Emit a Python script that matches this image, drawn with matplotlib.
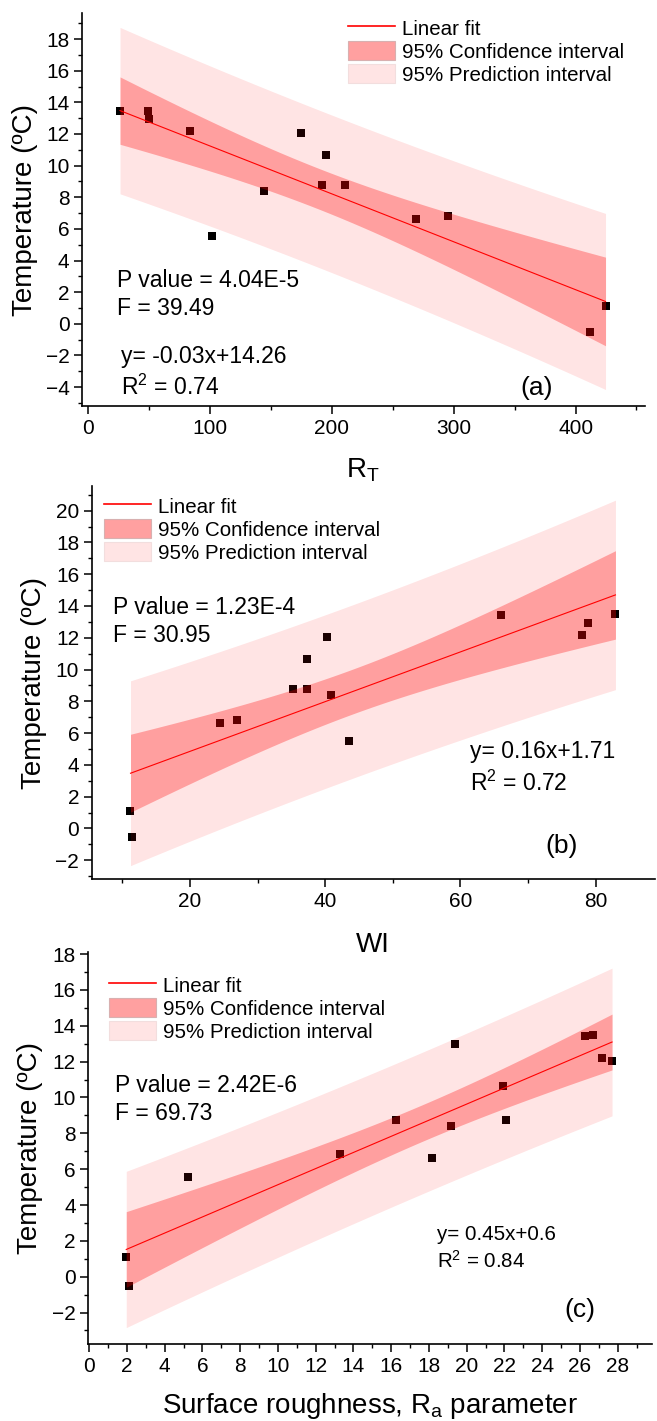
import numpy as np
import matplotlib
matplotlib.use("Agg")
import matplotlib.pyplot as plt
from matplotlib.lines import Line2D
from matplotlib.patches import Patch
from matplotlib.ticker import MultipleLocator

plt.rcParams['font.family'] = ['Liberation Sans', 'DejaVu Sans']
plt.rcParams['mathtext.fontset'] = 'custom'
plt.rcParams['mathtext.rm'] = 'Liberation Sans'
plt.rcParams['mathtext.it'] = 'Liberation Sans:italic'

# ---- data ----
rt = [26.0, 49.0, 49.9, 83.8, 101.3, 144.6, 174.4, 195.0, 191.7, 210.8, 269.4, 294.9, 411.8, 424.6]
temp_a = [13.48, 13.45, 12.96, 12.16, 5.53, 8.37, 12.06, 10.64, 8.75, 8.75, 6.60, 6.82, -0.53, 1.14]

wi = [11.2, 11.4, 24.5, 26.9, 35.3, 37.25, 37.25, 40.2, 40.8, 43.6, 66.0, 78.0, 78.9, 82.95]
temp_b = [1.11, -0.53, 6.63, 6.84, 8.75, 8.75, 10.64, 12.05, 8.39, 5.53, 13.43, 12.17, 12.95, 13.48]

ra = [1.96, 2.1, 5.25, 13.29, 16.25, 18.15, 19.18, 19.37, 21.94, 22.1, 26.28, 26.69, 27.18, 27.7]
temp_c = [1.12, -0.52, 5.56, 6.83, 8.74, 6.64, 8.39, 12.96, 10.64, 8.74, 13.4, 13.46, 12.18, 12.05]

pvalue_txt = ["P value = 4.04E-5", "P value = 1.23E-4", "P value = 2.42E-6"]
f_txt = ["F = 39.49", "F = 30.95", "F = 69.73"]
eq_txt = ["y= -0.03x+14.26", "y= 0.16x+1.71", "y= 0.45x+0.6"]
r2_txt = ["R$^\\mathregular{2}$ = 0.74", "R$^\\mathregular{2}$ = 0.72", "R$^\\mathregular{2}$ = 0.84"]
panel_tags = ["(a)", "(b)", "(c)"]
xlabels = ["R$_\\mathregular{T}$", "WI", "Surface roughness, R$_\\mathregular{a}$ parameter"]
legend_labels = ["Linear fit", "95% Confidence interval", "95% Prediction interval"]

T_CRIT = 2.1788  # t(0.975, df=12)

W, H = 657, 1421


def fx(x):
    return x / W


def fy(y):
    return 1 - y / H


def fit_bands(x, y):
    x = np.asarray(x, float)
    y = np.asarray(y, float)
    n = len(x)
    slope, icpt = np.polyfit(x, y, 1)
    resid = y - (slope * x + icpt)
    s = np.sqrt(np.sum(resid ** 2) / (n - 2))
    sxx = np.sum((x - x.mean()) ** 2)
    xg = np.linspace(x.min(), x.max(), 200)
    yg = slope * xg + icpt
    ci = T_CRIT * s * np.sqrt(1 / n + (xg - x.mean()) ** 2 / sxx)
    pi = T_CRIT * s * np.sqrt(1 + 1 / n + (xg - x.mean()) ** 2 / sxx)
    return xg, yg, ci, pi


def draw_panel(ax, x, y):
    ax.plot(x, y, 's', color='black', ms=6, mew=0, zorder=2)
    xg, yg, ci, pi = fit_bands(x, y)
    ax.fill_between(xg, yg - pi, yg + pi, color='red', alpha=0.106, lw=0, zorder=3)
    ax.fill_between(xg, yg - ci, yg + ci, color='red', alpha=0.30, lw=0, zorder=4)
    ax.plot(xg, yg, color='red', lw=0.8, zorder=5)


def style_axes(ax):
    for side in ['top', 'right']:
        ax.spines[side].set_visible(False)
    for side in ['left', 'bottom']:
        ax.spines[side].set_linewidth(1.2)
    ax.tick_params(which='major', direction='out', length=5.5, width=1.1,
                   labelsize=15, pad=3.5)
    ax.tick_params(which='minor', direction='out', length=2.6, width=1.0)


def add_legend(ax, x0, y0):
    handles = [Line2D([0], [0], color='red', lw=1.2),
               Patch(facecolor='#ffa0a0', edgecolor='#d8b0b0', lw=0.8),
               Patch(facecolor='#ffe4e4', edgecolor='#f2dede', lw=0.8)]
    ax.legend(handles, legend_labels, loc='upper left',
              bbox_to_anchor=(fx(x0), fy(y0)), bbox_transform=ax.figure.transFigure,
              frameon=False, borderpad=0, borderaxespad=0, handlelength=2.28,
              handleheight=1.05, handletextpad=0.35, labelspacing=0.12, fontsize=14.8)


def main():
    fig = plt.figure(figsize=(W / 100, H / 100), dpi=100)

    boxes = [(82, 13, 645, 406), (91.7, 486, 655, 879.3), (88.3, 951.7, 651.7, 1344.3)]
    axes = []
    for (l, t, r, b) in boxes:
        axes.append(fig.add_axes([fx(l), fy(b), (r - l) / W, (b - t) / H]))

    # (a)
    ax = axes[0]
    draw_panel(ax, rt, temp_a)
    style_axes(ax)
    ax.set_xlim(-5.2, 457)
    ax.set_ylim(-5.2, 19.65)
    ax.xaxis.set_major_locator(MultipleLocator(100))
    ax.xaxis.set_minor_locator(MultipleLocator(50))
    ax.yaxis.set_major_locator(MultipleLocator(2))
    ax.yaxis.set_minor_locator(MultipleLocator(1))
    add_legend(ax, 348, 18)

    # (b)
    ax = axes[1]
    draw_panel(ax, wi, temp_b)
    style_axes(ax)
    ax.set_xlim(5.46, 88.8)
    ax.set_ylim(-3.2, 21.55)
    ax.xaxis.set_major_locator(MultipleLocator(20))
    ax.xaxis.set_minor_locator(MultipleLocator(10))
    ax.yaxis.set_major_locator(MultipleLocator(2))
    ax.yaxis.set_minor_locator(MultipleLocator(1))
    add_legend(ax, 104, 496)

    # (c)
    ax = axes[2]
    draw_panel(ax, ra, temp_c)
    style_axes(ax)
    ax.set_xlim(-0.05, 29.8)
    ax.set_ylim(-3.77, 18.13)
    ax.xaxis.set_major_locator(MultipleLocator(2))
    ax.xaxis.set_minor_locator(MultipleLocator(1))
    ax.yaxis.set_major_locator(MultipleLocator(2))
    ax.yaxis.set_minor_locator(MultipleLocator(1))
    add_legend(ax, 109, 975)

    # annotation text (left x, baseline y in pixels)
    pv_pos = [(117, 286.7), (113, 614), (115, 1091.7)]
    f_pos = [(117, 315), (113, 642.3), (115, 1120)]
    eq_pos = [(121, 362.7), (470, 758.3), (437, 1240)]
    r2_pos = [(121, 395), (470, 791), (437, 1268.3)]
    eq_size = [16.5, 16.5, 14.8]
    tag_pos = [(537, 395), (562, 853), (580, 1317.3)]
    for i in range(3):
        fig.text(fx(pv_pos[i][0]), fy(pv_pos[i][1]), pvalue_txt[i], fontsize=16.5, va='baseline')
        fig.text(fx(f_pos[i][0]), fy(f_pos[i][1]), f_txt[i], fontsize=16.5, va='baseline')
        fig.text(fx(eq_pos[i][0]), fy(eq_pos[i][1]), eq_txt[i], fontsize=eq_size[i], va='baseline')
        fig.text(fx(r2_pos[i][0]), fy(r2_pos[i][1]), r2_txt[i], fontsize=eq_size[i], va='baseline')
        fig.text(fx(tag_pos[i][0]), fy(tag_pos[i][1]), panel_tags[i], fontsize=19,
                 ha='center', va='baseline')

    # axis titles
    xl_pos = [(363, 478), (373, 951.7), (370, 1413)]
    yl_pos = [(25, 210), (34.5, 683), (30.5, 1148)]
    for i in range(3):
        fig.text(fx(xl_pos[i][0]), fy(xl_pos[i][1]), xlabels[i], fontsize=20,
                 ha='center', va='baseline')
        fig.text(fx(yl_pos[i][0]), fy(yl_pos[i][1]), "Temperature (ºC)", fontsize=20,
                 rotation=90, ha='center', va='center')

    fig.savefig("out.png", dpi=100)


if __name__ == "__main__":
    main()
